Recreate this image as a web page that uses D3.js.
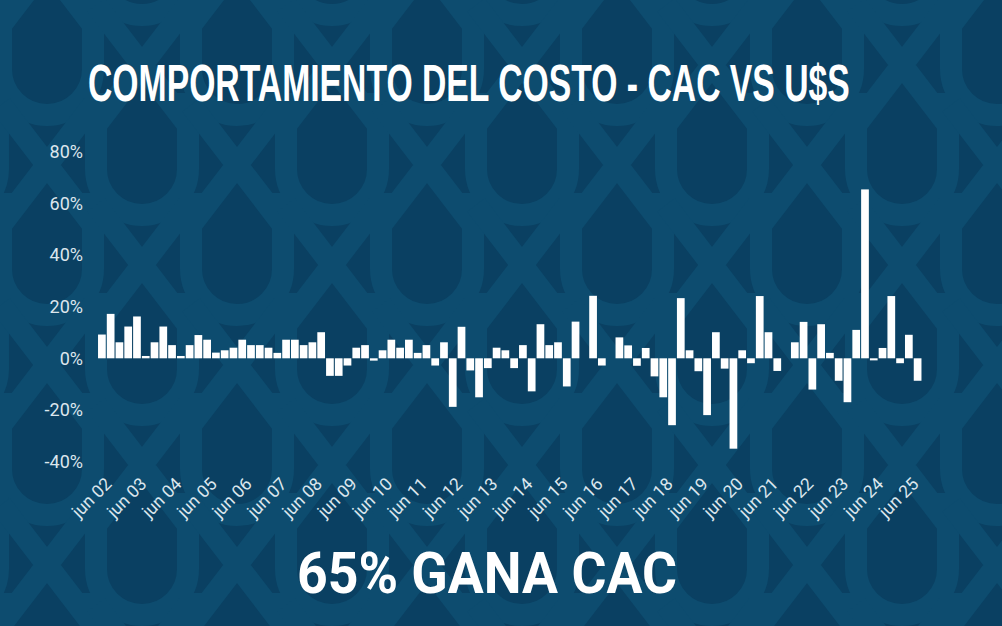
<!DOCTYPE html>
<html>
<head>
<meta charset="utf-8">
<script src="https://cdn.jsdelivr.net/npm/d3@7"></script>
<style>
  body { margin: 0; background: #0a3f5f; }
  svg { display: block; }
</style>
</head>
<body>
<svg id="chart" width="1002" height="626"></svg>
<script>
// quarters, from mar 02 to jun 25
const periods = [
  "mar 02","jun 02","sep 02","dic 02", "mar 03","jun 03","sep 03","dic 03",
  "mar 04","jun 04","sep 04","dic 04", "mar 05","jun 05","sep 05","dic 05",
  "mar 06","jun 06","sep 06","dic 06", "mar 07","jun 07","sep 07","dic 07",
  "mar 08","jun 08","sep 08","dic 08", "mar 09","jun 09","sep 09","dic 09",
  "mar 10","jun 10","sep 10","dic 10", "mar 11","jun 11","sep 11","dic 11",
  "mar 12","jun 12","sep 12","dic 12", "mar 13","jun 13","sep 13","dic 13",
  "mar 14","jun 14","sep 14","dic 14", "mar 15","jun 15","sep 15","dic 15",
  "mar 16","jun 16","sep 16","dic 16", "mar 17","jun 17","sep 17","dic 17",
  "mar 18","jun 18","sep 18","dic 18", "mar 19","jun 19","sep 19","dic 19",
  "mar 20","jun 20","sep 20","dic 20", "mar 21","jun 21","sep 21","dic 21",
  "mar 22","jun 22","sep 22","dic 22", "mar 23","jun 23","sep 23","dic 23",
  "mar 24","jun 24","sep 24","dic 24", "mar 25","jun 25"
];

// CAC vs U$S difference, in %
const values = [
  9.2, 17.2, 6.2, 12.3, 16.2, 0.9, 6.2, 12.3, 5.1, 0.9,
  5.1, 9.0, 7.2, 2.2, 3.1, 4.1, 7.2, 5.1, 5.1, 4.1,
  2.1, 7.2, 7.2, 5.1, 6.2, 10.1, -6.8, -6.8, -2.8, 4.1,
  5.1, -0.9, 3.1, 7.2, 4.1, 7.2, 2.1, 5.1, -2.8, 6.2,
  -18.8, 12.2, -4.7, -15.1, -3.8, 4.1, 3.1, -3.8, 5.1, -12.8,
  13.2, 5.1, 6.2, -10.9, 14.2, 0, 24.2, -2.8, 0, 8.1,
  5.0, -2.9, 4.0, -7.0, -15.1, -25.9, 23.3, 3.1, -5.0, -22.0,
  10.1, -4.0, -35.0, 3.1, -1.9, 24.1, 10.1, -4.9, 0, 6.2,
  14.1, -12.1, 13.2, 2.1, -8.7, -17.0, 11.0, 65.4, -0.8, 4.0,
  24.1, -1.9, 9.1, -8.7
];

const tickLabels = [
  "jun 02","jun 03","jun 04","jun 05","jun 06","jun 07","jun 08","jun 09",
  "jun 10","jun 11","jun 12","jun 13","jun 14","jun 15","jun 16","jun 17",
  "jun 18","jun 19","jun 20","jun 21","jun 22","jun 23","jun 24","jun 25"
];
const yTicks = [-40, -20, 0, 20, 40, 60, 80];

const title = "COMPORTAMIENTO DEL COSTO - CAC VS U$S";
const footer = "65% GANA CAC";

let svg = d3.select("#chart");

// ===== background: tiled U / X letters =====
let bg = svg.append("g");
bg.append("rect")
    .attr("width", 1002)
    .attr("height", 626)
    .attr("fill", "#0a4062");

for (let r = -1; r < 8; r++) {
    for (let c = -1; c < 12; c++) {
        let cx = 47 + c * 95;
        let cy = 65 + r * 100;
        let p;
        if (((r + c) % 2 + 2) % 2 == 0) {
            p = "M" + (cx - 46) + "," + (cy - 72) + "V" + (cy + 4) +
                "A46,46 0 0 0 " + (cx + 46) + "," + (cy + 4) + "V" + (cy - 72);
        } else {
            p = "M" + (cx - 46) + "," + (cy - 60) + "L" + (cx + 46) + "," + (cy + 60) +
                "M" + (cx + 46) + "," + (cy - 60) + "L" + (cx - 46) + "," + (cy + 60);
        }
        bg.append("path")
            .attr("d", p)
            .attr("fill", "none")
            .attr("stroke", "#0d4c6f")
            .attr("stroke-width", 22);
    }
}

// ===== scales =====
let x = d3.scaleBand()
    .domain(periods)
    .range([97.5, 922])
    .paddingInner(0.12)
    .paddingOuter(0.06);

let y = d3.scaleLinear()
    .domain([-40, 80])
    .range([461.6, 151.7]);

// ===== bars =====
svg.append("g")
    .selectAll("rect")
    .data(values)
    .join("rect")
    .attr("x", (d, i) => x(periods[i]))
    .attr("width", x.bandwidth())
    .attr("y", d => y(Math.max(0, d)))
    .attr("height", d => Math.abs(y(d) - y(0)))
    .attr("fill", "#ffffff");

// ===== axes =====
let yAxis = svg.append("g")
    .attr("transform", "translate(83,0)")
    .call(d3.axisLeft(y).tickValues(yTicks).tickSize(0).tickPadding(0)
        .tickFormat(d => d + "%"));
yAxis.select(".domain").remove();
yAxis.selectAll("text")
    .style("font-family", "Roboto, sans-serif")
    .style("font-size", "18px")
    .attr("fill", "#dce6ed");

let xAxis = svg.append("g")
    .attr("transform", "translate(0,485)")
    .call(d3.axisBottom(x).tickValues(tickLabels).tickSize(0));
xAxis.select(".domain").remove();
xAxis.selectAll("text")
    .attr("x", 0)
    .attr("y", 0)
    .attr("dy", 0)
    .attr("transform", "translate(2,0) rotate(-45)")
    .style("text-anchor", "end")
    .style("font-family", "Roboto, sans-serif")
    .style("font-size", "17.5px")
    .attr("fill", "#dce6ed");

// ===== titles =====
// condensed title: size the font to the wanted width, then stretch it up
let titleText = svg.append("text")
    .attr("x", 0)
    .attr("y", 0)
    .style("font-family", "'Liberation Sans Narrow', sans-serif")
    .style("font-weight", "bold")
    .style("font-size", "52px")
    .attr("fill", "#ffffff")
    .text(title);
let natural = titleText.node().getComputedTextLength();
let fs = 52 * 762 / natural;
titleText
    .style("font-size", fs + "px")
    .attr("transform", "translate(88,101) scale(1," + (52 / fs) + ")");

svg.append("text")
    .attr("x", 297)
    .attr("y", 593)
    .attr("textLength", 380)
    .attr("lengthAdjust", "spacingAndGlyphs")
    .style("font-family", "Roboto, sans-serif")
    .style("font-weight", "bold")
    .style("font-size", "57px")
    .attr("fill", "#ffffff")
    .text(footer);
</script>
</body>
</html>
